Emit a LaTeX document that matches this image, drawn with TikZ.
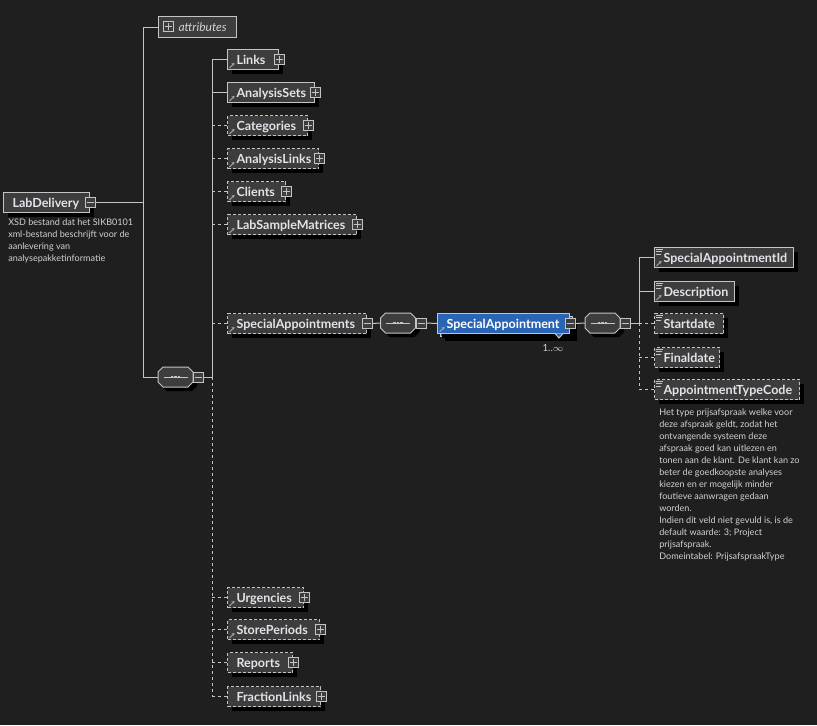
\documentclass[tikz,border=0pt]{standalone}
\usepackage{fontspec}
\setmainfont{Lato}
\usetikzlibrary{shadows,arrows.meta}
\definecolor{bgc}{HTML}{1F1F1F}
\definecolor{boxc}{HTML}{3D3D3D}
\definecolor{linec}{HTML}{C4C4C4}
\definecolor{txtc}{HTML}{E2E4EA}
\definecolor{descc}{HTML}{D2D2D2}
\definecolor{refc}{HTML}{A8A8A8}
\definecolor{bluec}{HTML}{2A65B5}
\tikzset{
  box/.style={rectangle, draw=linec, fill=boxc, line width=0.75pt, inner sep=0pt,
    minimum height=15pt, text height=6.75pt, text depth=0pt, text=txtc,
    font=\bfseries\fontsize{9.4pt}{11pt}\selectfont,
    drop shadow={shadow xshift=3pt, shadow yshift=-3pt, opacity=1, fill=black}},
  optbox/.style={box, dash pattern=on 2.25pt off 1.5pt},
  conn/.style={draw=linec, line width=0.75pt},
  dconn/.style={conn, dash pattern=on 2.25pt off 2.25pt},
  pmbox/.style={rectangle, draw=linec, fill=boxc, line width=0.75pt, minimum size=7.5pt, inner sep=0pt},
  compnode/.style={rectangle, minimum width=26.25pt, minimum height=15pt, inner sep=0pt},
  desc/.style={text=descc, font=\fontsize{6.8pt}{9pt}\selectfont, align=left, inner sep=0pt, anchor=north west},
}
\newcommand\elem[6]{%
  \pgfmathsetmacro\ew{#5*0.75}%
  \node[#2, anchor=north west, minimum width=\ew pt] (#1) at (#3,#4) {\makebox[\ew pt][l]{\hspace*{6.75pt}#6}};}
\newcommand\minusat[2]{%
  \node[pmbox] (#1) at #2 {};
  \draw[conn] ([xshift=1.5pt]#1.west) -- ([xshift=-1.5pt]#1.east);}
\newcommand\plusat[2]{%
  \node[pmbox] (#1) at #2 {};
  \draw[conn] ([xshift=1.5pt]#1.west) -- ([xshift=-1.5pt]#1.east);
  \draw[conn] ([yshift=1.5pt]#1.south) -- ([yshift=-1.5pt]#1.north);}
\newcommand\refmark[1]{%
  \draw[refc, line width=0.6pt, -{Stealth[length=2pt,width=2.4pt]}] ([shift={(2.5,-2)}]#1.south west) -- ++(5,-5);}
\newcommand\simplemark[1]{%
  \draw[linec, line width=0.5pt] ([shift={(2,2)}]#1.north west) -- ++(7,0);
  \draw[linec, line width=0.5pt] ([shift={(2,4.5)}]#1.north west) -- ++(6,0);
  \draw[linec, line width=0.5pt] ([shift={(2,7)}]#1.north west) -- ++(5,0);}
\newcommand\octpath[3]{([shift={(#2-17.5,#3-5)}]#1.center) -- ([shift={(#2-12.5,#3-10)}]#1.center) -- ([shift={(#2+12.5,#3-10)}]#1.center) -- ([shift={(#2+17.5,#3-5)}]#1.center) -- ([shift={(#2+17.5,#3+5)}]#1.center) -- ([shift={(#2+12.5,#3+10)}]#1.center) -- ([shift={(#2-12.5,#3+10)}]#1.center) -- ([shift={(#2-17.5,#3+5)}]#1.center) -- cycle}
\newcommand\comp[2]{%
  \node[compnode] (#1) at #2 {};
  \fill[black] \octpath{#1}{4}{4};
  \draw[linec, fill=boxc, line width=0.75pt] \octpath{#1}{0}{0};
  \draw[conn] ([xshift=-9pt]#1.center) -- ([xshift=9pt]#1.center);
  \foreach \dx in {-3.6,0,3.6} {\fill[linec] ([shift={(\dx-1.3,-1.3)}]#1.center) rectangle ++(2.6,2.6);}}
\begin{document}
\begin{tikzpicture}[x=0.75pt,y=-0.75pt]
\fill[bgc] (0,0) rectangle (817,725);
\useasboundingbox (0,0) rectangle (817,725);
\coordinate (t1x) at (143,0);
\coordinate (t2x) at (212,0);
\coordinate (t3x) at (639,0);

% root
\elem{ld}{box}{3}{192}{86}{LabDelivery}
\minusat{ldpm}{(ld.east)}
\node[desc] (lddesc) at (8,218.5) {XSD bestand dat het SIKB0101\\xml-bestand beschrijft voor de\\aanlevering van\\analysepakketinformatie};

% attributes
\node[rectangle, draw=linec, fill=boxc, line width=0.75pt, inner sep=0pt, anchor=north west,
  minimum width=58.5pt, minimum height=15.75pt, text height=6.75pt, text depth=0pt, text=descc,
  font=\itshape\fontsize{9pt}{11pt}\selectfont] (attr) at (158,16) {\makebox[58.5pt][l]{\hspace*{15pt}attributes}};
\plusat{attrpm}{(168,26.5)}

% compositor 1
\comp{c1}{(175.5,377)}
\minusat{c1pm}{(198,377)}

% children
\elem{links}{box}{227}{49}{51}{Links}
\elem{asets}{box}{227}{82}{87}{AnalysisSets}
\elem{cats}{optbox}{227}{115}{80}{Categories}
\elem{alinks}{optbox}{227}{148}{91}{AnalysisLinks}
\elem{clients}{optbox}{227}{181}{58}{Clients}
\elem{lsm}{optbox}{227}{214}{129}{LabSampleMatrices}
\elem{spa}{optbox}{227}{313}{139}{SpecialAppointments}
\elem{urg}{optbox}{227}{587}{76}{Urgencies}
\elem{sp}{optbox}{227}{619}{92}{StorePeriods}
\elem{rep}{optbox}{227}{652}{65}{Reports}
\elem{fl}{optbox}{227}{686}{93}{FractionLinks}
\foreach \n in {links,asets,cats,alinks,clients,lsm,urg,sp,rep,fl} {\plusat{\n pm}{(\n.east)}}
\minusat{spapm}{(spa.east)}
\foreach \n in {links,asets,cats,alinks,clients,lsm,spa,urg,sp} {\refmark{\n}}

% compositor 2
\comp{c2}{(398,323)}
\minusat{c2pm}{(421,323)}

% SpecialAppointment (stacked)
\node[rectangle, draw=linec, fill=bluec, line width=0.75pt, inner sep=0pt, anchor=north west,
  minimum width=99pt, minimum height=15pt,
  drop shadow={shadow xshift=3pt, shadow yshift=-3pt, opacity=1, fill=black}] (saback) at (440,316) {};
\elem{sa}{box, fill=bluec, text=white, drop shadow={opacity=0}}{437}{313}{132}{SpecialAppointment}
\refmark{sa}
\minusat{sapm}{(sa.east)}
\draw[linec, line width=0.75pt, fill=bluec] (555,333.5) -- (559,338) -- (563,333.5);
\node[text=descc, font=\fontsize{7.3pt}{9pt}\selectfont, inner sep=0pt] (mult) at (553,348) {1..$\infty$};

% compositor 3
\comp{c3}{(602.5,323)}
\minusat{c3pm}{(625,323)}

% right children
\elem{said}{box}{654}{247}{139}{SpecialAppointmentId}
\elem{descr}{box}{654}{281}{80}{Description}
\elem{sd}{optbox}{654}{313}{69}{Startdate}
\elem{fd}{optbox}{654}{347}{65}{Finaldate}
\elem{atc}{optbox}{654}{379}{145}{AppointmentTypeCode}
\foreach \n in {said,descr,sd,fd,atc} {\simplemark{\n}}
\refmark{said}
\refmark{descr}
\node[desc] (atcdesc) at (659,409) {Het type prijsafspraak welke voor\\deze afspraak geldt, zodat het\\ontvangende systeem deze\\afspraak goed kan uitlezen en\\tonen aan de klant. De klant kan zo\\beter de goedkoopste analyses\\kiezen en er mogelijk minder\\foutieve aanwragen gedaan\\worden.\\Indien dit veld niet gevuld is, is de\\default waarde: 3; Project\\prijsafspraak.\\Domeintabel: PrijsafspraakType};

% connectors: trunk 1
\draw[conn] (attr.west -| t1x) -- (c1.west -| t1x);
\draw[conn] (attr.west -| t1x) -- (attr.west);
\draw[conn] (c1.west -| t1x) -- (c1.west);
\draw[conn] (ldpm.east) -- (ldpm.east -| t1x);
% trunk 2
\draw[conn] (c1pm.east) -- (c1pm.east -| t2x);
\draw[conn] (links.west -| t2x) -- (c1pm.east -| t2x);
\draw[dconn] (c1pm.east -| t2x) -- (fl.west -| t2x);
\draw[conn] (links.west -| t2x) -- (links.west);
\draw[conn] (asets.west -| t2x) -- (asets.west);
\foreach \n in {cats,alinks,clients,lsm,spa,urg,sp,rep,fl} {\draw[dconn] (\n.west -| t2x) -- (\n.west);}
% chain
\draw[conn] (spapm.east) -- (c2.west);
\draw[conn] (c2pm.east) -- (sa.west);
\draw[conn] (sapm.east) -- (c3.west);
\draw[conn] (c3pm.east) -- (c3pm.east -| t3x);
% trunk 3
\draw[conn] (said.west -| t3x) -- (c3pm.east -| t3x);
\draw[dconn] (c3pm.east -| t3x) -- (atc.west -| t3x);
\draw[conn] (said.west -| t3x) -- (said.west);
\draw[conn] (descr.west -| t3x) -- (descr.west);
\foreach \n in {sd,fd,atc} {\draw[dconn] (\n.west -| t3x) -- (\n.west);}
\end{tikzpicture}
\end{document}
